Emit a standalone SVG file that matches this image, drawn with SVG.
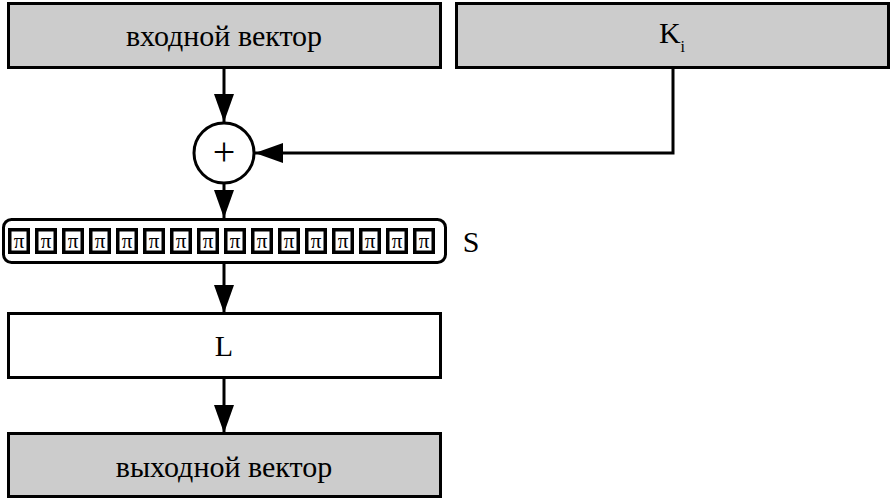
<svg xmlns="http://www.w3.org/2000/svg" width="892" height="500" viewBox="0 0 892 500">
<style>
.box{stroke:#000;stroke-width:3}
.grey{fill:#cccccc}
.white{fill:#fff}
.t{font-family:"Liberation Serif","Times New Roman",serif;font-size:30px;fill:#000;text-anchor:middle}
.plus{font-size:40px}
.sb{fill:#fff;stroke:#000;stroke-width:3.5}
.pi{font-family:"Liberation Serif","Times New Roman",serif;font-size:21px;fill:#000;text-anchor:middle}
.ln{fill:none;stroke:#000;stroke-width:3}
</style>
<defs>
<marker id="ah" viewBox="0 0 28 20" refX="28" refY="10" markerWidth="28" markerHeight="20" markerUnits="userSpaceOnUse" orient="auto">
<path d="M0,0 L28,10 L0,20 Z" fill="#000"/>
</marker>
</defs>
<rect width="892" height="500" fill="#fff"/>
<g id="input">
<rect class="box grey" x="8.5" y="3.5" width="432" height="64"/>
<text class="t" x="224" y="46">входной вектор</text>
</g>
<g id="key">
<rect class="box grey" x="456.5" y="3.5" width="432" height="64"/>
<text class="t" x="672" y="43">K<tspan font-size="16" dy="9">i</tspan></text>
</g>
<g id="xor">
<circle class="box white" cx="224" cy="153" r="30"/>
<text class="t plus" x="224" y="165">+</text>
</g>
<g id="S">
<rect x="3.5" y="219.5" width="442" height="43" rx="8" ry="8" fill="#fff" stroke="#000" stroke-width="3"/>
<g id="sboxes">
<rect class="sb" x="9.75" y="229.75" width="18.5" height="22.5"/><text class="pi" x="19" y="248">π</text>
<rect class="sb" x="36.75" y="229.75" width="18.5" height="22.5"/><text class="pi" x="46" y="248">π</text>
<rect class="sb" x="63.75" y="229.75" width="18.5" height="22.5"/><text class="pi" x="73" y="248">π</text>
<rect class="sb" x="90.75" y="229.75" width="18.5" height="22.5"/><text class="pi" x="100" y="248">π</text>
<rect class="sb" x="117.75" y="229.75" width="18.5" height="22.5"/><text class="pi" x="127" y="248">π</text>
<rect class="sb" x="144.75" y="229.75" width="18.5" height="22.5"/><text class="pi" x="154" y="248">π</text>
<rect class="sb" x="171.75" y="229.75" width="18.5" height="22.5"/><text class="pi" x="181" y="248">π</text>
<rect class="sb" x="198.75" y="229.75" width="18.5" height="22.5"/><text class="pi" x="208" y="248">π</text>
<rect class="sb" x="225.75" y="229.75" width="18.5" height="22.5"/><text class="pi" x="235" y="248">π</text>
<rect class="sb" x="252.75" y="229.75" width="18.5" height="22.5"/><text class="pi" x="262" y="248">π</text>
<rect class="sb" x="279.75" y="229.75" width="18.5" height="22.5"/><text class="pi" x="289" y="248">π</text>
<rect class="sb" x="306.75" y="229.75" width="18.5" height="22.5"/><text class="pi" x="316" y="248">π</text>
<rect class="sb" x="333.75" y="229.75" width="18.5" height="22.5"/><text class="pi" x="343" y="248">π</text>
<rect class="sb" x="360.75" y="229.75" width="18.5" height="22.5"/><text class="pi" x="370" y="248">π</text>
<rect class="sb" x="387.75" y="229.75" width="18.5" height="22.5"/><text class="pi" x="397" y="248">π</text>
<rect class="sb" x="414.75" y="229.75" width="18.5" height="22.5"/><text class="pi" x="424" y="248">π</text>
</g>
<text class="t" x="471" y="252">S</text>
</g>
<g id="L">
<rect class="box white" x="8.5" y="313.5" width="432" height="64"/>
<text class="t" x="224" y="356">L</text>
</g>
<g id="output">
<rect class="box grey" x="8.5" y="433.5" width="432" height="63"/>
<text class="t" x="224" y="477">выходной вектор</text>
</g>
<g id="connectors">
<line class="ln" x1="224" y1="68" x2="224" y2="122" marker-end="url(#ah)"/>
<polyline class="ln" points="673,68 673,153 255,153" marker-end="url(#ah)"/>
<line class="ln" x1="224" y1="184" x2="224" y2="218" marker-end="url(#ah)"/>
<line class="ln" x1="224" y1="263" x2="224" y2="313" marker-end="url(#ah)"/>
<line class="ln" x1="224" y1="378" x2="224" y2="433" marker-end="url(#ah)"/>
</g>
</svg>
